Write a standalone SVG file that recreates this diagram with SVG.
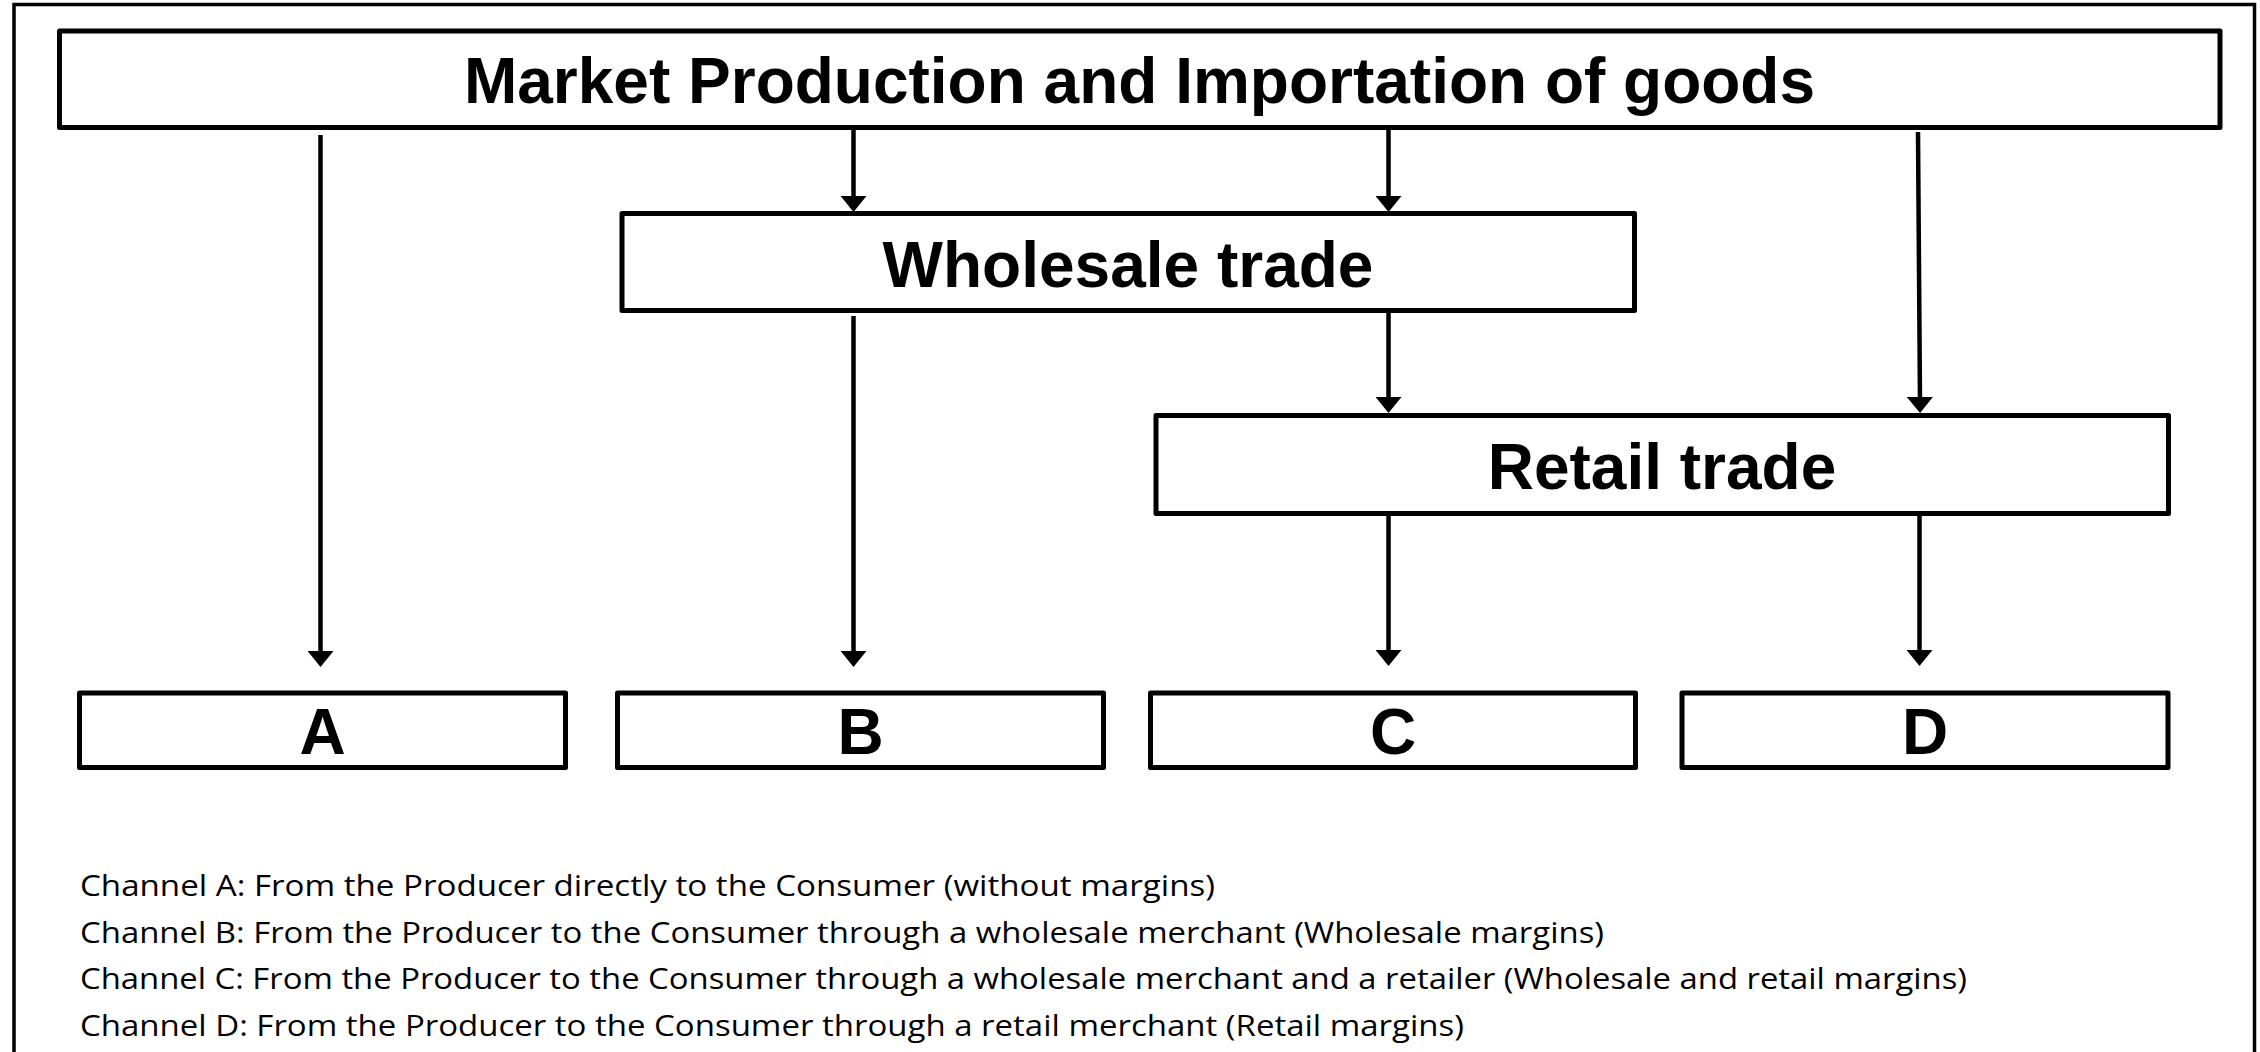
<svg xmlns="http://www.w3.org/2000/svg" width="2260" height="1052" viewBox="0 0 2260 1052">
<defs>
<style>
.frame{fill:#fff;stroke:#000;stroke-width:3.5}
.box{fill:#fff;stroke:#000;stroke-width:5;stroke-linejoin:round}
.big{font-family:"Liberation Sans",Arial,sans-serif;font-weight:bold;font-size:64px;fill:#000;text-anchor:middle}
.leg{font-family:"Open Sans","Noto Sans",sans-serif;font-size:30px;fill:#000}
.conn line{stroke:#000;stroke-width:4.5;fill:none;marker-end:url(#ah)}
</style>
<marker id="ah" markerUnits="userSpaceOnUse" markerWidth="16" markerHeight="26" viewBox="0 0 16 26" refX="6" refY="13" orient="auto">
<path d="M0,0 L16,13 L0,26 Z" fill="#000"/>
</marker>
</defs>
<rect x="0" y="0" width="2260" height="1052" fill="#fff"/>
<rect class="frame" x="14" y="4.5" width="2240.5" height="1060"/>
<g id="market">
<rect class="box" x="59.5" y="31" width="2160.5" height="96.5"/>
<text class="big" x="1139.5" y="103">Market Production and Importation of goods</text>
</g>
<g id="wholesale">
<rect class="box" x="622" y="213.5" width="1012.5" height="97"/>
<text class="big" x="1128" y="287">Wholesale trade</text>
</g>
<g id="retail">
<rect class="box" x="1156" y="415.5" width="1012.5" height="98"/>
<text class="big" x="1662" y="489">Retail trade</text>
</g>
<g id="A">
<rect class="box" x="79.5" y="693" width="486" height="74.5"/>
<text class="big" x="322.5" y="754">A</text>
</g>
<g id="B">
<rect class="box" x="617.5" y="693" width="486" height="74.5"/>
<text class="big" x="860.5" y="754">B</text>
</g>
<g id="C">
<rect class="box" x="1150.5" y="693" width="485" height="74.5"/>
<text class="big" x="1393" y="754">C</text>
</g>
<g id="D">
<rect class="box" x="1682" y="693" width="486" height="74.5"/>
<text class="big" x="1925" y="754">D</text>
</g>
<g id="connectors" class="conn">
<line x1="320.5" y1="135" x2="320.5" y2="657"/>
<line x1="853.5" y1="130" x2="853.5" y2="202"/>
<line x1="1388.5" y1="130" x2="1388.5" y2="202"/>
<line x1="853.5" y1="316" x2="853.5" y2="657"/>
<line x1="1388.5" y1="313" x2="1388.5" y2="403"/>
<line x1="1918" y1="132" x2="1920" y2="403"/>
<line x1="1388.5" y1="516" x2="1388.5" y2="656"/>
<line x1="1919.5" y1="516" x2="1919.5" y2="656"/>
</g>
<g id="legend">
<text class="leg" x="80" y="896" textLength="1135" lengthAdjust="spacingAndGlyphs">Channel A: From the Producer directly to the Consumer (without margins)</text>
<text class="leg" x="80" y="942.5" textLength="1524" lengthAdjust="spacingAndGlyphs">Channel B: From the Producer to the Consumer through a wholesale merchant (Wholesale margins)</text>
<text class="leg" x="80" y="989" textLength="1887" lengthAdjust="spacingAndGlyphs">Channel C: From the Producer to the Consumer through a wholesale merchant and a retailer (Wholesale and retail margins)</text>
<text class="leg" x="80" y="1035.5" textLength="1384" lengthAdjust="spacingAndGlyphs">Channel D: From the Producer to the Consumer through a retail merchant (Retail margins)</text>
</g>
</svg>
